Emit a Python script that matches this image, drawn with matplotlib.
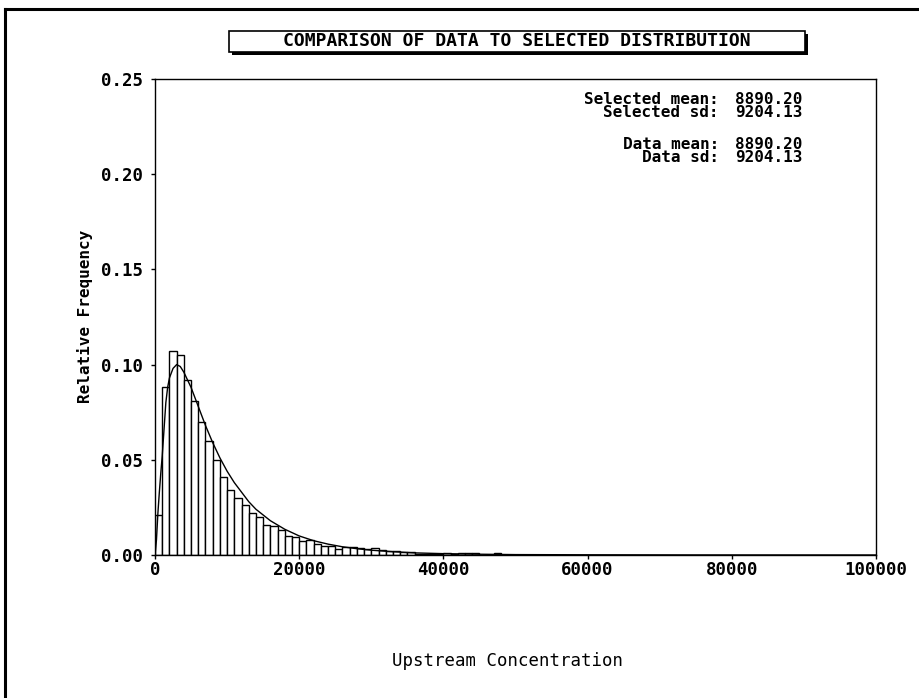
import matplotlib
matplotlib.use("Agg")
import matplotlib.pyplot as plt
from matplotlib.patches import Rectangle
from matplotlib.lines import Line2D
import numpy as np

# histogram of the data, bin width 1000 starting at 0
bin_width = 1000
rel_freq = [0.021, 0.088, 0.107, 0.105, 0.092, 0.081, 0.070, 0.060, 0.050, 0.041,
            0.034, 0.030, 0.026, 0.022, 0.020, 0.016, 0.015, 0.013, 0.010, 0.0095,
            0.0075, 0.008, 0.006, 0.0045, 0.0045, 0.003, 0.004, 0.004, 0.0035, 0.003,
            0.0035, 0.0025, 0.002, 0.002, 0.0015, 0.0015, 0.0006, 0.0006, 0.0006, 0.0006,
            0.0012, 0.0006, 0.0012, 0.001, 0.001, 0.0, 0.0, 0.001]

# selected (fitted) distribution curve
curve_x = [0, 200, 400, 600, 800, 1000, 1250, 1500, 1750, 2000, 2500, 3000, 3500,
           4000, 5000, 6000, 7000, 8000, 9000, 10000, 11000, 12000, 13000, 14000,
           15000, 16000, 18000, 20000, 22000, 24000, 26000, 28000, 30000, 33000,
           36000, 40000, 45000, 50000, 60000, 75000, 100000]
curve_y = [0.0, 0.008, 0.022, 0.033, 0.043, 0.052, 0.066, 0.080, 0.088, 0.093, 0.098,
           0.100, 0.099, 0.096, 0.088, 0.078, 0.068, 0.059, 0.051, 0.044, 0.038, 0.033,
           0.028, 0.024, 0.021, 0.018, 0.0135, 0.010, 0.0075, 0.0057, 0.0043, 0.0033,
           0.0025, 0.0017, 0.0011, 0.0007, 0.0004, 0.0002, 0.0001, 0.00003, 0.0]

x_ticks = [0, 20000, 40000, 60000, 80000, 100000]
y_ticks = [0.00, 0.05, 0.10, 0.15, 0.20, 0.25]

sel_labels = ["Selected mean:", "Selected sd:"]
sel_values = ["8890.20", "9204.13"]
data_labels = ["Data mean:", "Data sd:"]
data_values = ["8890.20", "9204.13"]

mono = "DejaVu Sans Mono"

fig = plt.figure(figsize=(9.2, 6.98), dpi=100)
ax = fig.add_axes([0.1685, 0.2049, 0.7837, 0.6819])

edges = np.arange(len(rel_freq)) * bin_width
ax.bar(edges, rel_freq, width=bin_width, align="edge", color="white",
       edgecolor="black", linewidth=1.0)
ax.plot(curve_x, curve_y, color="black", linewidth=1.0)

ax.set_xlim(0, 100000)
ax.set_ylim(0, 0.25)
ax.set_xticks(x_ticks)
ax.set_xticklabels([str(v) for v in x_ticks])
ax.set_yticks(y_ticks)
ax.set_yticklabels(["%.2f" % v for v in y_ticks])
ax.tick_params(axis="both", direction="out", length=3, width=1, colors="black")
ax.tick_params(axis="y", pad=6)
ax.tick_params(axis="x", pad=1.5)
for lab in ax.get_xticklabels() + ax.get_yticklabels():
    lab.set_fontfamily(mono)
    lab.set_fontweight("bold")
    lab.set_fontsize(12.5)
for sp in ax.spines.values():
    sp.set_linewidth(1.0)

# axis titles
fig.text(0.092, 0.547, "Relative Frequency", rotation=90, ha="center", va="center",
         family=mono, fontsize=11.5, fontweight="bold")
fig.text(0.552, 0.053, "Upstream Concentration", ha="center", va="center",
         family=mono, fontsize=12.5)

# statistics block in the upper right: labels end at the colon, values follow
def stat_block(labels, values, ytop):
    kw = dict(va="top", family=mono, fontsize=11.5, fontweight="bold", linespacing=0.82)
    fig.text(0.7815, ytop, "\n".join(labels), ha="right", multialignment="right", **kw)
    fig.text(0.799, ytop, "\n".join(values), ha="left", **kw)

stat_block(sel_labels, sel_values, 0.868)
stat_block(data_labels, data_values, 0.8035)

# boxed title with drop shadow
bx0, by0, bw, bh = 0.2489, 0.9255, 0.6261, 0.0301
fig.patches.append(Rectangle((bx0 + 0.0035, by0 - 0.0045), bw, bh, transform=fig.transFigure,
                             facecolor="black", edgecolor="black", linewidth=0))
fig.patches.append(Rectangle((bx0, by0), bw, bh, transform=fig.transFigure,
                             facecolor="white", edgecolor="black", linewidth=1.2))
fig.text(bx0 + bw / 2, by0 + bh / 2, "COMPARISON OF DATA TO SELECTED DISTRIBUTION",
         ha="center", va="center", family=mono, fontsize=13, fontweight="bold")

# outer frame of the page
fig.lines.append(Line2D([0.0054, 1.0], [0.987, 0.987], transform=fig.transFigure,
                        color="black", linewidth=2.2))
fig.lines.append(Line2D([0.0054, 0.0054], [0.0, 0.987], transform=fig.transFigure,
                        color="black", linewidth=2.2))

fig.savefig("out.png", dpi=100)
